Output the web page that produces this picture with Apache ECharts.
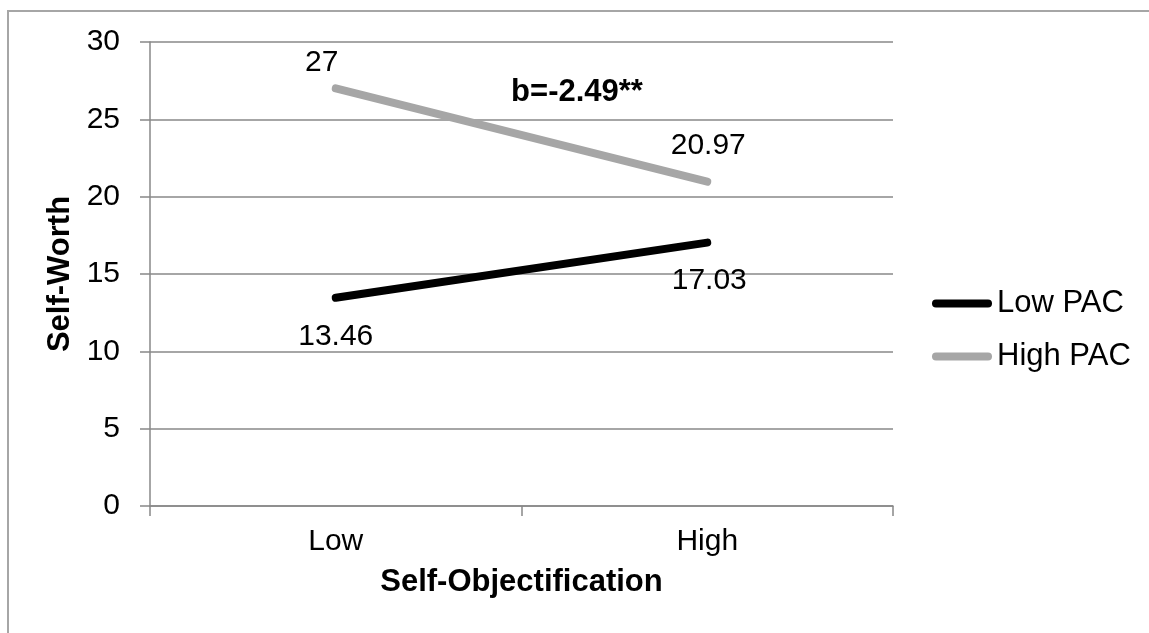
<!DOCTYPE html>
<html>
<head>
<meta charset="utf-8">
<script src="https://cdn.jsdelivr.net/npm/echarts@6/dist/echarts.min.js"></script>
<style>
html,body{margin:0;padding:0;background:#fff;}
#chart{width:1149px;height:633px;}
</style>
</head>
<body>
<div id="chart"></div>
<script>
const categories = ['Low', 'High'];
const lowPAC = [13.46, 17.03];
const highPAC = [27, 20.97];
const seriesNames = ['Low PAC', 'High PAC'];
const yTicks = { min: 0, max: 30, interval: 5 };
const annotation = 'b=-2.49**';

const FONT = '"Liberation Sans", Arial, sans-serif';
const lowOffsets = [[0, 39], [2, 38]];
const highOffsets = [[-14, -26], [1, -36]];

function mkData(vals, offs) {
  return vals.map((v, i) => ({
    value: v,
    label: { offset: offs[i] }
  }));
}

const chart = echarts.init(document.getElementById('chart'));
chart.setOption({
  animation: false,
  backgroundColor: '#fff',
  textStyle: { fontFamily: FONT },
  grid: { left: 150, top: 42, width: 743, height: 464, containLabel: false },
  graphic: [
    { type: 'rect', shape: { x: 8, y: 11, width: 2000, height: 2000 },
      style: { fill: 'none', stroke: '#a6a6a6', lineWidth: 2 }, silent: true },
    { type: 'text', x: 577, y: 92,
      style: { text: annotation, font: 'bold 31px ' + FONT, fill: '#000',
               textAlign: 'center', textVerticalAlign: 'middle' } }
  ],
  legend: {
    orient: 'vertical',
    left: 927,
    top: 283,
    itemGap: 22,
    itemWidth: 60,
    itemHeight: 8,
    icon: 'path://M4,0 L56,0 A4,4 0 0 1 56,8 L4,8 A4,4 0 0 1 4,0 Z',
    textStyle: { fontSize: 31, color: '#000', fontFamily: FONT },
    data: seriesNames
  },
  xAxis: {
    type: 'category',
    data: categories,
    boundaryGap: true,
    name: 'Self-Objectification',
    nameLocation: 'middle',
    nameGap: 61,
    nameTextStyle: { fontSize: 31, fontWeight: 'bold', color: '#000', fontFamily: FONT },
    axisLine: { lineStyle: { color: '#888', width: 1.5 } },
    axisTick: { show: true, length: 10, alignWithLabel: false, lineStyle: { color: '#888', width: 1.5 } },
    axisLabel: { fontSize: 30, color: '#000', margin: 21, fontFamily: FONT },
    splitLine: { show: false }
  },
  yAxis: {
    type: 'value',
    min: yTicks.min,
    max: yTicks.max,
    interval: yTicks.interval,
    name: 'Self-Worth',
    nameLocation: 'middle',
    nameRotate: 90,
    nameGap: 72,
    nameTextStyle: { fontSize: 31, fontWeight: 'bold', color: '#000', fontFamily: FONT },
    axisLine: { show: true, lineStyle: { color: '#888', width: 1.5 } },
    axisTick: { show: true, length: 10, lineStyle: { color: '#888', width: 1.5 } },
    axisLabel: { fontSize: 30, color: '#000', margin: 30, fontFamily: FONT },
    splitLine: { show: true, lineStyle: { color: '#888', width: 1.5 } }
  },
  series: [
    {
      name: seriesNames[0],
      type: 'line',
      data: mkData(lowPAC, lowOffsets),
      symbol: 'circle',
      symbolSize: 0.1,
      showSymbol: true,
      lineStyle: { color: '#000', width: 8, cap: 'round' },
      itemStyle: { color: '#000' },
      label: { show: true, position: 'inside', fontSize: 30, color: '#000', fontFamily: FONT,
               formatter: p => String(p.value) },
      z: 3
    },
    {
      name: seriesNames[1],
      type: 'line',
      data: mkData(highPAC, highOffsets),
      symbol: 'circle',
      symbolSize: 0.1,
      showSymbol: true,
      lineStyle: { color: '#a6a6a6', width: 8, cap: 'round' },
      itemStyle: { color: '#a6a6a6' },
      label: { show: true, position: 'inside', fontSize: 30, color: '#000', fontFamily: FONT,
               formatter: p => String(p.value) },
      z: 3
    }
  ]
});
</script>
</body>
</html>
